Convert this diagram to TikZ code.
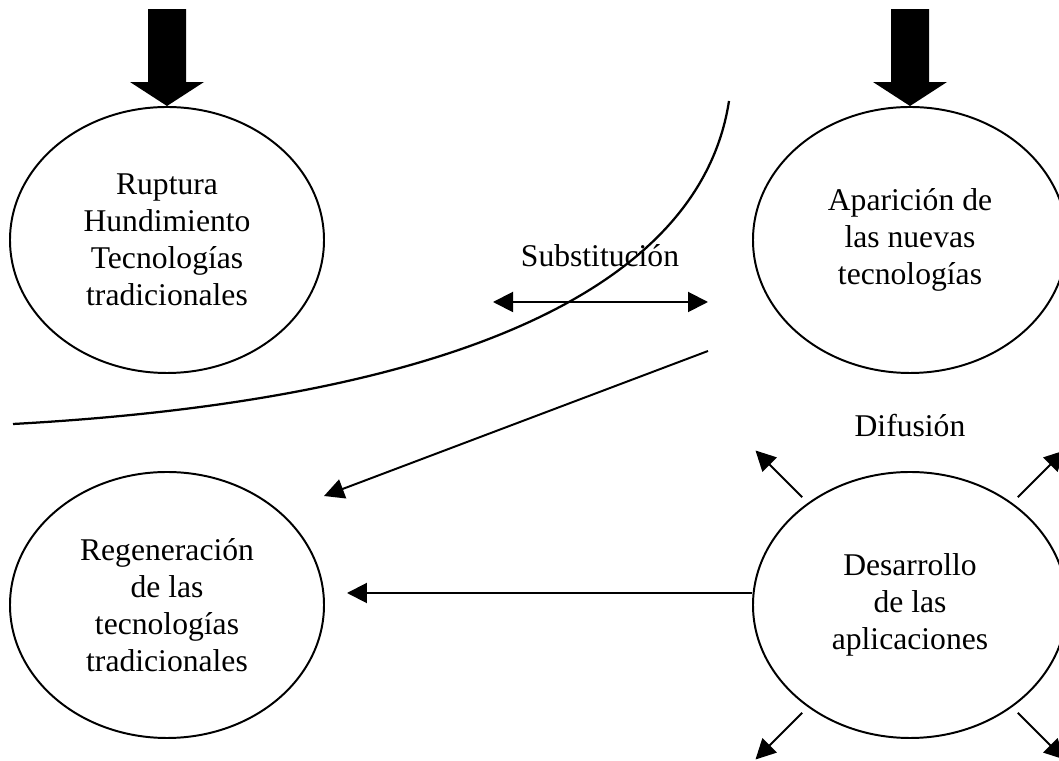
\documentclass[tikz,border=0pt]{standalone}
\usepackage{fontspec}
\setmainfont{Liberation Serif}
\usetikzlibrary{arrows.meta,shapes.geometric}

\begin{document}
\begin{tikzpicture}[x=0.25mm,y=0.25mm,line width=1.4pt,>={Triangle[length=5mm,width=5mm]},
		font=\fontsize{22.5}{26.3}\selectfont,
		bubble/.style={ellipse,draw,minimum width=78.5mm,minimum height=66.5mm,inner sep=0pt,align=center}]
	\useasboundingbox (0,0) rectangle (1059,761);
	\clip (0,0) rectangle (1059,761);
	\node[bubble] (rup) at (167,521) {Ruptura\\Hundimiento\\Tecnologías\\tradicionales};
	\node[bubble] (apa) at (910,521) {Aparición de\\las nuevas\\tecnologías};
	\node[bubble] (reg) at (167,156) {Regeneración\\de las\\tecnologías\\tradicionales};
	\node[bubble] (des) at (910,156) {Desarrollo\\de las\\aplicaciones};
	% flechas gruesas
	\foreach \n in {rup,apa}
		\fill (\n.north) -- ++(-37,24) -- ++(18,0) -- ++(0,73) -- ++(38,0) -- ++(0,-73) -- ++(18,0) -- cycle;
	\draw[line width=1.6pt] (13,337) .. controls (450,361) and (700,471) .. (729,660);
	\coordinate (s1) at (493,459);
	\coordinate (s2) at (708,459);
	\draw[<->] (s1) -- (s2);
	\node[anchor=base] (sub) at (600,494) {Substitución};
	\coordinate (a1) at (708,410);
	\coordinate (a2) at (324,265);
	\draw[->] (a1) -- (a2);
	\draw[->,shorten >=5.5mm] ([yshift=3mm]des.west) -- ([yshift=3mm]reg.east);
	\node[anchor=base] (dif) at (910,324) {Difusión};
	\foreach \a in {45,135,225,315}
		\draw[->] (des.\a) ++(\a:8) -- ++(\a:66);
\end{tikzpicture}
\end{document}
